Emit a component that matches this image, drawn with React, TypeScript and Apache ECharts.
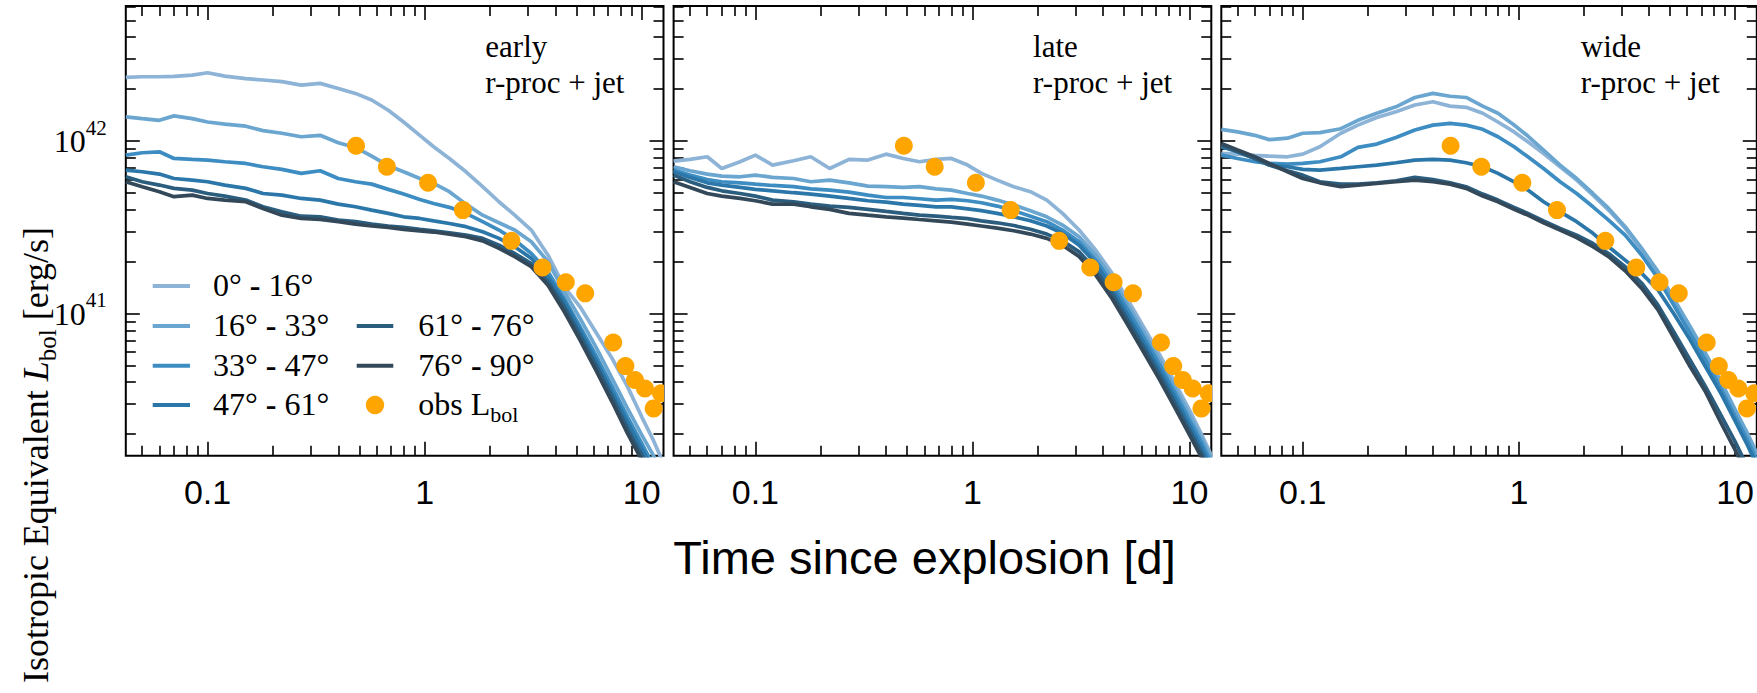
import React, { useEffect, useRef } from 'react';
import * as echarts from 'echarts';

// ---------------- data ----------------
// time since explosion [d] at which the model curves were read
const TIME_D = [0.042, 0.05, 0.06, 0.07, 0.085, 0.1, 0.12, 0.15, 0.18, 0.22, 0.27, 0.33, 0.4, 0.48, 0.57, 0.68, 0.8, 0.95, 1.1, 1.3, 1.55, 1.85, 2.2, 2.6, 3.1, 3.7, 4.4, 5.2, 6.2, 7.3, 8.6, 10, 11.3, 12.6];

const ANGLE_BINS = ['0° - 16°', '16° - 33°', '33° - 47°', '47° - 61°', '61° - 76°', '76° - 90°'];
const PANEL_NAMES = ['early', 'late', 'wide'];
const PANEL_SUBTITLE = 'r-proc + jet';

// isotropic equivalent L_bol, in units of 1e41 erg/s
const EARLY_0_16 = [23.4, 23.6, 23.6, 23.7, 24.1, 24.9, 23.8, 23.0, 22.6, 22.1, 21.1, 21.6, 20.2, 18.9, 17.3, 15.1, 12.9, 10.8, 9.27, 7.93, 6.64, 5.44, 4.45, 3.72, 3.05, 2.18, 1.43, 1.095, 0.767, 0.55, 0.377, 0.252, 0.185, 0.135];
const EARLY_16_33 = [13.8, 13.5, 13.2, 14.0, 13.5, 12.9, 12.55, 12.2, 11.5, 11.1, 10.6, 10.8, 9.78, 9.19, 8.18, 7.2, 6.64, 6.07, 5.68, 5.09, 4.31, 3.72, 3.36, 3.05, 2.61, 2.0, 1.34, 0.938, 0.628, 0.421, 0.282, 0.198, 0.151, 0.116];
const EARLY_33_47 = [8.29, 8.56, 8.67, 7.93, 7.83, 7.76, 7.59, 7.42, 7.1, 6.85, 6.5, 6.73, 6.07, 5.81, 5.63, 5.25, 4.93, 4.59, 4.35, 4.13, 3.81, 3.41, 3.05, 2.67, 2.23, 1.75, 1.22, 0.839, 0.562, 0.377, 0.252, 0.177, 0.132, 0.1013];
const EARLY_47_61 = [6.79, 6.64, 6.44, 6.07, 5.94, 5.81, 5.56, 5.32, 4.97, 4.86, 4.65, 4.55, 4.31, 4.16, 3.98, 3.81, 3.64, 3.56, 3.45, 3.33, 3.19, 2.98, 2.73, 2.44, 2.09, 1.63, 1.17, 0.802, 0.526, 0.352, 0.236, 0.165, 0.124, 0.0948];
const EARLY_61_76 = [6.21, 5.81, 5.56, 5.32, 5.2, 4.97, 4.8, 4.55, 4.16, 3.89, 3.67, 3.64, 3.48, 3.41, 3.3, 3.22, 3.16, 3.08, 3.02, 2.94, 2.85, 2.73, 2.49, 2.23, 1.95, 1.53, 1.095, 0.75, 0.492, 0.33, 0.216, 0.151, 0.113, 0.0868];
const EARLY_76_90 = [5.81, 5.44, 5.09, 4.76, 4.86, 4.65, 4.55, 4.45, 4.07, 3.72, 3.56, 3.51, 3.41, 3.3, 3.22, 3.16, 3.08, 3.02, 2.97, 2.89, 2.79, 2.64, 2.39, 2.14, 1.87, 1.46, 1.025, 0.702, 0.46, 0.308, 0.202, 0.1415, 0.1036, 0.0793];

const LATE_0_16 = [7.66, 7.83, 8.11, 6.94, 7.59, 8.29, 7.26, 7.69, 8.11, 6.94, 7.83, 7.76, 8.4, 7.93, 7.59, 7.83, 7.93, 7.26, 6.5, 5.94, 5.44, 5.09, 4.55, 3.81, 3.05, 2.33, 1.71, 1.2, 0.82, 0.574, 0.394, 0.276, 0.202, 0.151];
const LATE_16_33 = [7.1, 6.73, 6.44, 6.27, 6.21, 6.35, 6.16, 6.07, 5.81, 5.94, 5.73, 5.48, 5.44, 5.39, 5.44, 5.29, 5.2, 4.97, 4.8, 4.55, 4.26, 3.95, 3.64, 3.26, 2.79, 2.18, 1.6, 1.12, 0.767, 0.537, 0.368, 0.258, 0.193, 0.145];
const LATE_33_47 = [6.79, 6.35, 5.99, 5.81, 5.73, 5.63, 5.53, 5.44, 5.29, 5.2, 5.06, 4.86, 4.71, 4.71, 4.63, 4.55, 4.59, 4.51, 4.39, 4.2, 3.95, 3.67, 3.41, 3.05, 2.61, 2.04, 1.5, 1.05, 0.718, 0.503, 0.345, 0.241, 0.181, 0.135];
const LATE_47_61 = [6.64, 6.16, 5.73, 5.56, 5.39, 5.25, 5.15, 5.02, 4.93, 4.8, 4.65, 4.51, 4.43, 4.31, 4.24, 4.16, 4.16, 4.05, 3.95, 3.81, 3.64, 3.45, 3.22, 2.92, 2.49, 1.95, 1.4, 0.98, 0.672, 0.47, 0.322, 0.226, 0.169, 0.127];
const LATE_61_76 = [6.35, 5.81, 5.39, 5.15, 4.97, 4.8, 4.55, 4.45, 4.31, 4.2, 4.13, 4.02, 3.91, 3.81, 3.72, 3.67, 3.61, 3.55, 3.45, 3.36, 3.24, 3.08, 2.89, 2.64, 2.28, 1.79, 1.31, 0.917, 0.628, 0.44, 0.301, 0.211, 0.158, 0.118];
const LATE_76_90 = [5.81, 5.39, 4.97, 4.8, 4.65, 4.51, 4.31, 4.31, 4.16, 4.02, 3.81, 3.72, 3.64, 3.58, 3.51, 3.45, 3.39, 3.3, 3.22, 3.13, 3.02, 2.89, 2.73, 2.49, 2.14, 1.67, 1.22, 0.858, 0.587, 0.412, 0.282, 0.198, 0.148, 0.111];

const WIDE_0_16 = [8.48, 8.4, 8.26, 8.18, 8.11, 8.4, 9.27, 11.1, 12.38, 13.7, 14.8, 16.2, 16.9, 15.95, 15.7, 14.5, 12.9, 11.3, 9.91, 8.48, 7.1, 5.94, 4.86, 3.98, 3.12, 2.33, 1.71, 1.2, 0.82, 0.574, 0.394, 0.27, 0.202, 0.151];
const WIDE_16_33 = [11.7, 11.3, 10.8, 10.2, 10.4, 11.1, 11.2, 11.8, 13.2, 14.5, 15.8, 17.9, 18.9, 18.2, 17.9, 15.95, 14.5, 12.4, 10.7, 8.87, 7.26, 6.07, 4.97, 4.07, 3.19, 2.39, 1.75, 1.22, 0.839, 0.587, 0.403, 0.278, 0.207, 0.155];
const WIDE_33_47 = [8.29, 7.93, 7.59, 7.42, 7.36, 7.42, 7.59, 8.11, 9.19, 9.61, 10.5, 11.6, 12.38, 12.66, 12.38, 11.7, 10.6, 9.27, 8.11, 6.94, 5.81, 4.97, 4.16, 3.48, 2.85, 2.18, 1.6, 1.12, 0.767, 0.537, 0.368, 0.254, 0.189, 0.1415];
const WIDE_47_61 = [9.27, 8.67, 7.93, 7.26, 7.1, 6.85, 6.79, 6.94, 7.1, 7.26, 7.49, 7.76, 7.83, 7.76, 7.49, 7.1, 6.5, 5.81, 5.2, 4.45, 3.89, 3.41, 2.92, 2.44, 2.04, 1.71, 1.37, 1.0, 0.702, 0.492, 0.345, 0.239, 0.177, 0.132];
const WIDE_61_76 = [9.48, 8.67, 7.93, 7.26, 6.73, 6.35, 5.81, 5.63, 5.63, 5.73, 5.89, 6.16, 5.99, 5.73, 5.44, 4.93, 4.55, 4.13, 3.81, 3.45, 3.12, 2.85, 2.55, 2.23, 1.87, 1.5, 1.12, 0.785, 0.537, 0.377, 0.258, 0.181, 0.132, 0.099];
const WIDE_76_90 = [9.69, 8.87, 8.11, 7.42, 6.64, 6.07, 5.73, 5.44, 5.56, 5.68, 5.81, 5.94, 5.81, 5.63, 5.32, 4.8, 4.45, 4.02, 3.72, 3.36, 3.05, 2.76, 2.44, 2.14, 1.77, 1.4, 1.05, 0.727, 0.492, 0.352, 0.233, 0.162, 0.1184, 0.0887];

// observed bolometric luminosity
const OBS_TIME_D = [0.483, 0.67, 1.037, 1.5, 2.51, 3.49, 4.47, 5.49, 7.39, 8.41, 9.31, 10.35, 11.35, 12.27];
const OBS_LBOL = [9.39, 7.1, 5.73, 3.98, 2.64, 1.85, 1.52, 1.31, 0.68, 0.496, 0.412, 0.368, 0.282, 0.345];

// axis ticks
const X_LABEL_TICKS = [0.1, 1, 10];
const X_MINOR_TICKS = [0.05, 0.06, 0.07, 0.08, 0.09, 0.2, 0.3, 0.4, 0.5, 0.6, 0.7, 0.8, 0.9, 2, 3, 4, 5, 6, 7, 8, 9];
const Y_LABEL_TICKS = [1e41, 1e42];
const Y_MINOR_TICKS = [2e40, 3e40, 4e40, 5e40, 6e40, 7e40, 8e40, 9e40, 2e41, 3e41, 4e41, 5e41, 6e41, 7e41, 8e41, 9e41, 2e42, 3e42, 4e42, 5e42, 6e42];

// ---------------- styling / layout ----------------
const LINE_COLORS = ['#8DB3D7', '#6AA6CF', '#3D8DC3', '#2C77A9', '#2B5D7F', '#33495A'];
const OBS_COLOR = '#FFA500';
const SERIF = "'Liberation Serif', 'Times New Roman', serif";
const SANS = "'Liberation Sans', Arial, sans-serif";

const X_MIN = 0.042;
const X_MAX = 12.6;
const Y_MIN = 1.5e40;
const Y_MAX = 6.07e42;
const UNIT = 1e41;

const PANEL_LEFT = [125.8, 673.6, 1221.3];
const GRID_TOP = 6;
const GRID_W = 537.7;
const GRID_H = 449.7;

const PANELS = [
  [EARLY_0_16, EARLY_16_33, EARLY_33_47, EARLY_47_61, EARLY_61_76, EARLY_76_90],
  [LATE_0_16, LATE_16_33, LATE_33_47, LATE_47_61, LATE_61_76, LATE_76_90],
  [WIDE_0_16, WIDE_16_33, WIDE_33_47, WIDE_47_61, WIDE_61_76, WIDE_76_90],
];

function tickAxis(dim: 'x' | 'y', g: number, position: string, ticks: number[], len: number, label: any) {
  return {
    type: 'log',
    logBase: 10,
    gridIndex: g,
    position,
    min: dim === 'x' ? X_MIN : Y_MIN,
    max: dim === 'x' ? X_MAX : Y_MAX,
    axisLine: { show: false, onZero: false },
    splitLine: { show: false },
    minorTick: { show: false },
    axisTick: {
      show: true,
      inside: true,
      length: len,
      customValues: ticks,
      lineStyle: { color: '#000', width: 1.6 },
    },
    axisLabel: label || { show: false },
  };
}

function buildOption() {
  const grid = PANEL_LEFT.map((left) => ({
    left,
    top: GRID_TOP,
    width: GRID_W,
    height: GRID_H,
    show: true,
    borderColor: '#000',
    borderWidth: 2,
    backgroundColor: 'transparent',
  }));

  const xLabel = {
    show: true,
    customValues: X_LABEL_TICKS,
    formatter: (v: number) => String(Number(v.toPrecision(6))),
    margin: 19,
    color: '#000',
    fontFamily: SANS,
    fontSize: 34,
  };
  const yLabel = {
    show: true,
    customValues: Y_LABEL_TICKS,
    formatter: (v: number) => '{b|10}{s|' + Math.round(Math.log10(v)) + '}',
    margin: 19,
    color: '#000',
    rich: {
      b: { fontFamily: SERIF, fontSize: 32, lineHeight: 32, color: '#000' },
      s: { fontFamily: SERIF, fontSize: 21, lineHeight: 21, color: '#000', padding: [0, 0, 27, 0] },
    },
  };

  const xAxis: any[] = [];
  const yAxis: any[] = [];
  for (let g = 0; g < 3; g++) {
    xAxis.push(tickAxis('x', g, 'bottom', X_LABEL_TICKS, 14, xLabel));
    xAxis.push(tickAxis('x', g, 'bottom', X_MINOR_TICKS, 10, null));
    xAxis.push(tickAxis('x', g, 'top', X_LABEL_TICKS, 14, null));
    xAxis.push(tickAxis('x', g, 'top', X_MINOR_TICKS, 10, null));
    yAxis.push(tickAxis('y', g, 'left', Y_LABEL_TICKS, 14, g === 0 ? yLabel : null));
    yAxis.push(tickAxis('y', g, 'left', Y_MINOR_TICKS, 10, null));
    yAxis.push(tickAxis('y', g, 'right', Y_LABEL_TICKS, 14, null));
    yAxis.push(tickAxis('y', g, 'right', Y_MINOR_TICKS, 10, null));
  }

  const series: any[] = [];
  PANELS.forEach((curves, g) => {
    curves.forEach((vals, k) => {
      series.push({
        type: 'line',
        name: ANGLE_BINS[k],
        xAxisIndex: 4 * g,
        yAxisIndex: 4 * g,
        data: TIME_D.map((t, i) => [t, vals[i] * UNIT]),
        showSymbol: false,
        symbol: 'none',
        clip: true,
        silent: true,
        z: 2 + k,
        lineStyle: { color: LINE_COLORS[k], width: 3.7 },
        itemStyle: { color: LINE_COLORS[k] },
      });
    });
    series.push({
      type: 'custom',
      name: 'obs Lbol',
      xAxisIndex: 4 * g,
      yAxisIndex: 4 * g,
      clip: true,
      silent: true,
      z: 20,
      data: OBS_TIME_D.map((t, i) => [t, OBS_LBOL[i] * UNIT]),
      renderItem: (_p: any, api: any) => {
        const c = api.coord([api.value(0), api.value(1)]);
        return { type: 'circle', shape: { cx: c[0], cy: c[1], r: 9 }, style: { fill: OBS_COLOR } };
      },
    });
  });

  const elements: any[] = [];
  // panel annotations
  PANEL_LEFT.forEach((left, g) => {
    elements.push({
      type: 'text', x: left + 359.5, y: 46.7, z: 100,
      style: { text: PANEL_NAMES[g], fontFamily: SERIF, fontSize: 31, lineHeight: 31, fill: '#000', align: 'left', verticalAlign: 'middle' },
    });
    elements.push({
      type: 'text', x: left + 359.5, y: 82.7, z: 100,
      style: { text: PANEL_SUBTITLE, fontFamily: SERIF, fontSize: 31, lineHeight: 31, fill: '#000', align: 'left', verticalAlign: 'middle' },
    });
  });

  // legend
  const rowsCol1 = [286, 326, 365.7, 405];
  const rowsCol2 = [326, 365.7, 405];
  const legendItems = [
    { col: 0, row: rowsCol1[0], k: 0 },
    { col: 0, row: rowsCol1[1], k: 1 },
    { col: 0, row: rowsCol1[2], k: 2 },
    { col: 0, row: rowsCol1[3], k: 3 },
    { col: 1, row: rowsCol2[0], k: 4 },
    { col: 1, row: rowsCol2[1], k: 5 },
  ];
  const handleX = [[152.7, 190], [356.7, 393.3]];
  const textX = [213, 418.3];
  const dashRich = { h: { fontFamily: SERIF, fontSize: 32, fontWeight: 'bold', fill: '#000' } };
  legendItems.forEach(({ col, row, k }) => {
    elements.push({
      type: 'line', z: 100,
      shape: { x1: handleX[col][0], y1: row, x2: handleX[col][1], y2: row },
      style: { stroke: LINE_COLORS[k], lineWidth: 4 },
    });
    elements.push({
      type: 'text', x: textX[col], y: row - 1, z: 100,
      style: {
        text: ANGLE_BINS[k].replace(' - ', ' {h|-} '),
        rich: dashRich,
        fontFamily: SERIF, fontSize: 32, fill: '#000', align: 'left', verticalAlign: 'middle',
      },
    });
  });
  elements.push({
    type: 'circle', z: 100,
    shape: { cx: (handleX[1][0] + handleX[1][1]) / 2, cy: rowsCol2[2], r: 9.2 },
    style: { fill: OBS_COLOR },
  });
  elements.push({
    type: 'text', x: textX[1], y: rowsCol2[2] - 1, z: 100,
    style: {
      text: 'obs L{sub|bol}',
      fontFamily: SERIF, fontSize: 32, fill: '#000', align: 'left', verticalAlign: 'middle',
      rich: {
        sub: { fontFamily: SERIF, fontSize: 22, lineHeight: 22, fill: '#000', padding: [20, 0, 0, 0] },
      },
    },
  });

  // axis titles
  elements.push({
    type: 'text', x: 924.5, y: 557, z: 100,
    style: { text: 'Time since explosion [d]', fontFamily: SANS, fontSize: 47, fill: '#000', align: 'center', verticalAlign: 'middle' },
  });
  elements.push({
    type: 'text', x: 36, y: 455, rotation: Math.PI / 2, z: 100,
    style: {
      text: 'Isotropic Equivalent {i|L}{sub|bol} [erg/s]',
      fontFamily: SERIF, fontSize: 36, fill: '#000', align: 'center', verticalAlign: 'middle',
      rich: {
        i: { fontFamily: SERIF, fontSize: 36, fontStyle: 'italic', fill: '#000' },
        sub: { fontFamily: SERIF, fontSize: 25, lineHeight: 25, fill: '#000', padding: [22, 0, 0, 0] },
      },
    },
  });

  return {
    animation: false,
    backgroundColor: '#fff',
    grid,
    xAxis,
    yAxis,
    series,
    graphic: { elements },
  };
}

export default function App() {
  const ref = useRef<HTMLDivElement>(null);
  useEffect(() => {
    document.body.style.margin = '0';
    const chart = echarts.init(ref.current!, null, { renderer: 'svg', width: 1757, height: 693 });
    chart.setOption(buildOption() as any);
    return () => chart.dispose();
  }, []);
  return (
    <div
      ref={ref}
      style={{ position: 'absolute', left: 0, top: 0, width: 1757, height: 693, background: '#fff' }}
    />
  );
}
